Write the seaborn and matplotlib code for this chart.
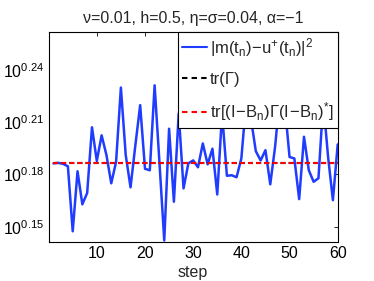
import matplotlib
matplotlib.use("Agg")
import matplotlib.pyplot as plt
import seaborn as sns
import numpy as np
import pandas as pd
from matplotlib.lines import Line2D
from matplotlib.ticker import FixedLocator, NullLocator, FixedFormatter

# ---- data ----
steps = list(range(1, 61))
error_sq = [1.536, 1.537, 1.535, 1.530, 1.404, 1.520, 1.455, 1.477, 1.611, 1.541,
            1.594, 1.553, 1.496, 1.539, 1.698, 1.553, 1.488, 1.573, 1.659, 1.525,
            1.522, 1.703, 1.538, 1.387, 1.608, 1.460, 1.641, 1.486, 1.536, 1.542,
            1.528, 1.577, 1.534, 1.566, 1.474, 1.641, 1.511, 1.512, 1.508, 1.546,
            1.667, 1.629, 1.561, 1.542, 1.563, 1.494, 1.570, 1.679, 1.660, 1.549,
            1.546, 1.465, 1.591, 1.522, 1.499, 1.506, 1.667, 1.549, 1.463, 1.575]
tr_gamma = 1.536
tr_filtered = 1.536
ytick_exponents = [0.15, 0.18, 0.21, 0.24]
ytick_labels = [r"$10^{0.15}$", r"$10^{0.18}$", r"$10^{0.21}$", r"$10^{0.24}$"]
xticks = [10, 20, 30, 40, 50, 60]
title = "ν=0.01, h=0.5, η=σ=0.04, α=−1"
labels = [r"$|m(t_n)\!-\!u^{+}(t_n)|^2$", "tr(Γ)",
          r"$tr[(I\!-\!B_n)\Gamma(I\!-\!B_n)^{*}]$"]

df = pd.DataFrame({"step": steps, "err": error_sq,
                   "trg": [tr_gamma] * len(steps),
                   "trf": [tr_filtered] * len(steps)})

sns.set_style("white")
plt.rcParams["font.family"] = ["Liberation Sans", "DejaVu Sans"]
plt.rcParams["mathtext.fontset"] = "custom"
plt.rcParams["mathtext.rm"] = "Liberation Sans"
plt.rcParams["mathtext.it"] = "Liberation Sans"
plt.rcParams["mathtext.default"] = "regular"

fig = plt.figure(figsize=(3.74, 2.81), dpi=100)
ax = fig.add_axes([0.130, 0.140, 0.773, 0.747])

blue = "#1f3cff"
dash = (0, (2.4, 1.5))
sns.lineplot(data=df, x="step", y="err", ax=ax, color=blue, lw=1.8)
sns.lineplot(data=df, x="step", y="trg", ax=ax, color="black", lw=1.5,
             linestyle=dash)
sns.lineplot(data=df, x="step", y="trf", ax=ax, color="red", lw=1.5,
             linestyle=dash)

ax.set_yscale("log")
ax.set_xlim(0, 60)
ax.set_ylim(10 ** 0.1414, 10 ** 0.262)
ax.yaxis.set_major_locator(FixedLocator([10 ** e for e in ytick_exponents]))
ax.yaxis.set_major_formatter(FixedFormatter(ytick_labels))
ax.yaxis.set_minor_locator(NullLocator())
ax.set_xticks(xticks)
ax.tick_params(direction="in", top=True, right=True, length=3, width=0.6,
               labelsize=11.5, pad=3, colors="black")
for s in ax.spines.values():
    s.set_color("black")
    s.set_linewidth(0.8)

ax.set_xlabel("step", fontsize=11.5, labelpad=3)
ax.set_ylabel("")
ax.set_title(title, fontsize=11.5, pad=6)

handles = [Line2D([], [], color=blue, lw=1.5),
           Line2D([], [], color="black", lw=1.5, linestyle=(0, (2.6, 2.0))),
           Line2D([], [], color="red", lw=1.5, linestyle=(0, (2.6, 2.0)))]
leg = ax.legend(handles, labels, loc="upper right", borderaxespad=0,
                fancybox=False, framealpha=1, edgecolor="black",
                fontsize=12, handlelength=1.5, handletextpad=0.2,
                labelspacing=0.8, borderpad=0.25)
leg.get_frame().set_linewidth(0.8)

fig.savefig("out.png", dpi=100)
